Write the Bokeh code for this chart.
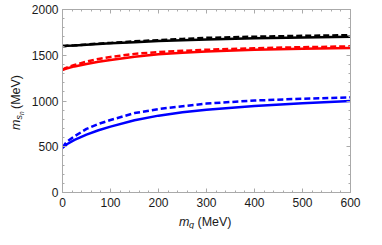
import math
from bokeh.plotting import figure
from bokeh.models import LinearAxis, SingleIntervalTicker, Range1d, Label, CustomJSTickFormatter
from bokeh.embed import file_html
from bokeh.resources import INLINE

# Data (MeV)
mq = [0, 5, 10, 25, 50, 75, 100, 150, 200, 250, 300, 400, 500, 600]
blue_solid = [490, 510, 530, 575, 632, 680, 720, 790, 840, 878, 905, 945, 975, 1000]
blue_dashed = [490, 528, 558, 615, 695, 750, 792, 868, 912, 943, 972, 1005, 1025, 1040]
red_solid = [1340, 1350, 1358, 1378, 1405, 1428, 1447, 1484, 1510, 1528, 1542, 1560, 1571, 1580]
red_dashed = [1340, 1356, 1368, 1395, 1430, 1460, 1482, 1515, 1535, 1548, 1560, 1577, 1588, 1597]
black_solid = [1600, 1601, 1603, 1607, 1614, 1622, 1630, 1643, 1655, 1664, 1672, 1685, 1694, 1702]
black_dashed = [1600, 1601, 1603, 1608, 1618, 1627, 1635, 1652, 1665, 1678, 1690, 1703, 1712, 1720]

W, H = 366, 229
L, R, T, B = 60, 16, 9, 37

p = figure(width=W, height=H, output_backend="svg", toolbar_location=None,
           x_range=Range1d(0, 600), y_range=Range1d(0, 2000),
           min_border_left=L, min_border_right=R, min_border_top=T, min_border_bottom=B,
           background_fill_color="white", border_fill_color="white")
p.xgrid.visible = False
p.ygrid.visible = False
p.outline_line_color = "#aaaaaa"

frame_col = "#aaaaaa"
font = "Liberation Sans"

def style(ax, labels=True):
    ax.axis_line_color = frame_col
    ax.major_tick_line_color = frame_col
    ax.minor_tick_line_color = frame_col
    ax.major_tick_in = 4
    ax.major_tick_out = 0
    ax.minor_tick_in = 2
    ax.minor_tick_out = 0
    if labels:
        ax.major_label_text_font = font
        ax.major_label_text_font_size = "12px"
        ax.major_label_text_color = "#1a1a1a"
        ax.major_label_standoff = 5
    else:
        ax.formatter = CustomJSTickFormatter(code="return ''")
        ax.major_label_standoff = 0

p.xaxis.ticker = SingleIntervalTicker(interval=100, num_minor_ticks=5)
p.yaxis.ticker = SingleIntervalTicker(interval=500, num_minor_ticks=5)
style(p.xaxis[0])
style(p.yaxis[0])
p.yaxis[0].major_label_standoff = 4

top = LinearAxis(ticker=SingleIntervalTicker(interval=100, num_minor_ticks=5))
right = LinearAxis(ticker=SingleIntervalTicker(interval=500, num_minor_ticks=5))
style(top, labels=False)
style(right, labels=False)
p.add_layout(top, "above")
p.add_layout(right, "right")

lw = 2.5
p.line(mq, blue_solid, line_color="#0000ff", line_width=lw)
p.line(mq, blue_dashed, line_color="#0000ff", line_width=lw, line_dash="6 3")
p.line(mq, red_solid, line_color="#ff0000", line_width=lw)
p.line(mq, red_dashed, line_color="#ff0000", line_width=lw, line_dash="6 3")
p.line(mq, black_solid, line_color="#000000", line_width=lw)
p.line(mq, black_dashed, line_color="#000000", line_width=lw, line_dash="6 3")

col = "#1a1a1a"

def lab(cx, cy, text, size, place, italic=False, angle=0.0):
    # labels live in side panels (not clipped by the frame); positioned in canvas px
    p.add_layout(Label(x=cx, y=cy, x_units="canvas", y_units="canvas", text=text,
                       text_font=font, text_font_style="italic" if italic else "normal",
                       text_font_size=size, text_color=col, text_baseline="alphabetic",
                       text_align="left", angle=angle), place)

# x axis label: m_q (MeV)
lab(178.5, 221, "m", "12.5px", "right", italic=True)
lab(188.5, 224, "q", "9px", "right", italic=True)
lab(197, 221, "(MeV)", "12.5px", "below")

# y axis label: m_{s_n} (MeV), rotated
ang = math.pi / 2
lab(15, 129.5, "m", "12.5px", "left", italic=True, angle=ang)
lab(18, 119, "s", "9px", "above", italic=True, angle=ang)
lab(20.5, 114.5, "n", "6.5px", "above", italic=True, angle=ang)
lab(15, 108.5, "(MeV)", "12.5px", "left", angle=ang)

open("out.html", "w").write(file_html(p, INLINE))
